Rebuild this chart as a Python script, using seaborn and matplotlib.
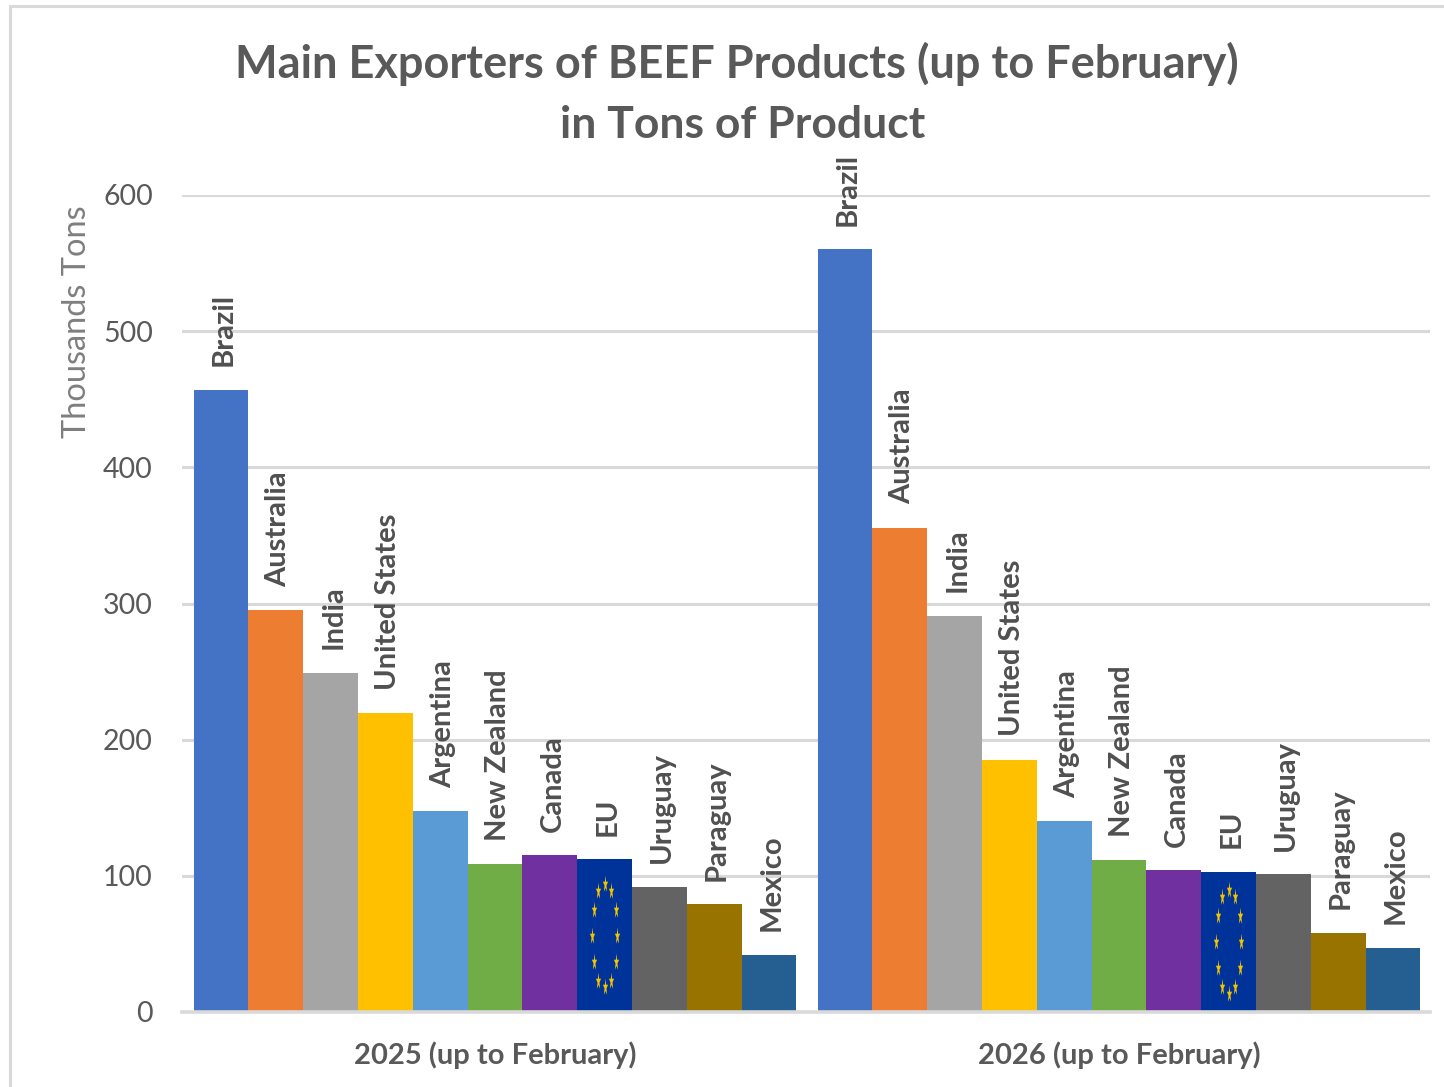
import seaborn as sns
import matplotlib.pyplot as plt
import pandas as pd
import numpy as np
from matplotlib.markers import MarkerStyle
from matplotlib.patches import Rectangle
from matplotlib.transforms import Affine2D

periods = ["2025 (up to February)", "2026 (up to February)"]
exporters = ["Brazil", "Australia", "India", "United States", "Argentina", "New Zealand",
             "Canada", "EU", "Uruguay", "Paraguay", "Mexico"]
values_2025 = [457, 295, 249, 219.5, 147.5, 108.5, 115, 112, 92, 79, 42]
values_2026 = [560, 355.5, 291, 185, 140, 111.5, 104, 103, 101, 58, 47]
colors = ["#4472C4", "#ED7D31", "#A5A5A5", "#FFC000", "#5B9BD5", "#70AD47",
          "#7030A0", "#003399", "#636363", "#997300", "#255E91"]
y_ticks = [0, 100, 200, 300, 400, 500, 600]

GREY = "#595959"

sns.set_theme(style="white")
plt.rcParams["font.family"] = ["Lato", "DejaVu Sans"]

df = pd.DataFrame({
    "Period": periods * len(exporters),
    "Exporter": [e for e in exporters for _ in periods],
    "Tons": [v for pair in zip(values_2025, values_2026) for v in pair],
})

W, H = 1444, 1087
fig = plt.figure(figsize=(W / 100, H / 100), dpi=100)
ax = fig.add_axes([182 / W, 1 - 1012 / H, (1430 - 182) / W, (1012 - 195) / H])

sns.barplot(data=df, x="Period", y="Tons", hue="Exporter", hue_order=exporters, palette=colors,
            saturation=1, width=0.966, gap=0, legend=False, ax=ax, zorder=3,
            edgecolor="none", linewidth=0)

ax.set_xlim(-0.5016, 1.4984)
ax.set_ylim(0, 600)
ax.set_yticks(y_ticks)
ax.set_xlabel("")
ax.set_ylabel("Thousands Tons", fontsize=23.4, color="#7f7f7f")
ax.yaxis.set_label_coords(-0.072, 0.845)
ax.tick_params(axis="y", length=0, labelsize=20.5, labelcolor=GREY, pad=21)
ax.tick_params(axis="x", length=0, labelsize=21, labelcolor=GREY, pad=21)
for label in ax.get_xticklabels():
    label.set_fontweight("bold")
ax.grid(axis="y", color="#D9D9D9", linewidth=2.2, zorder=0)
ax.set_axisbelow(True)
sns.despine(ax=ax, left=True, top=True, right=True, bottom=False)
ax.spines["bottom"].set_color("#D9D9D9")
ax.spines["bottom"].set_linewidth(2.6)
ax.spines["bottom"].set_zorder(5)

for name, container in zip(exporters, ax.containers):
    anns = ax.bar_label(container, labels=[name, name], rotation=90, padding=17, fontsize=21,
                        fontweight="bold", color="#505050", clip_on=False)
    for ann in anns:
        ann.xyann = (2, ann.xyann[1])

# EU flag stars, a stretched ring of twelve inside each EU bar
star = MarkerStyle("*", transform=Affine2D().scale(0.3, 1.0))
eu_bars = ax.containers[exporters.index("EU")]
angles = np.deg2rad(np.arange(0, 360, 30))
for bar in eu_bars:
    cx = bar.get_x() + bar.get_width() / 2
    cy = bar.get_height() / 2
    ax.scatter(cx + 0.0205 * np.sin(angles), cy + 38 * np.cos(angles), marker=star, s=170,
               color="#F2C400", linewidths=0, zorder=4)

fig.text(736.5 / W, 1 - 64 / H, "Main Exporters of BEEF Products (up to February)", fontsize=32.5,
         fontweight="bold", color=GREY, ha="center", va="center")
fig.text(743 / W, 1 - 125 / H, "in Tons of Product", fontsize=32,
         fontweight="bold", color=GREY, ha="center", va="center")

# outer chart frame, runs off the right and bottom of the picture
fig.add_artist(Rectangle((9.5 / W, -0.05), 1.2, 1 - 5.5 / H + 0.05, transform=fig.transFigure,
                         fill=False, edgecolor="#D9D9D9", linewidth=2.2))

fig.savefig("out.png", dpi=100)
